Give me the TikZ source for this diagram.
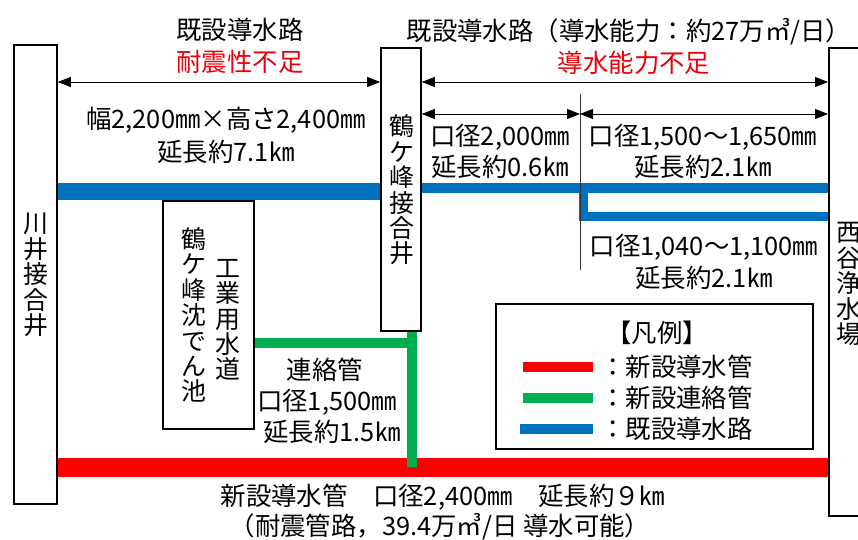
\documentclass[tikz,border=0pt]{standalone}
\usepackage{fontspec}
\setmainfont{Noto Sans CJK JP}
\usetikzlibrary{arrows.meta}
\definecolor{pipeblue}{RGB}{0,112,192}
\definecolor{pipegreen}{RGB}{0,176,80}
\definecolor{pipered}{RGB}{255,0,0}
\definecolor{txtred}{RGB}{235,0,10}
\begin{document}
\begin{tikzpicture}[x=1bp,y=-1bp,
  lbl/.style={font=\fontsize{25.5}{25.5}\selectfont, inner sep=0pt},
  vtext/.style={font=\fontsize{25}{25.5}\selectfont, inner sep=0pt, align=center},
  boxnode/.style={draw, line width=1.6bp, inner sep=0pt, fill=white},
  dimline/.style={line width=0.9bp, {Triangle[length=13bp,width=10bp]}-{Triangle[length=13bp,width=10bp]}},
  pipe/.style={line width=#1, line cap=butt},
]
\useasboundingbox (0,0) rectangle (858,540);
\fill[white] (0,0) rectangle (858,540);

% boxes
\node[boxnode, minimum width=43bp, minimum height=459bp] (kawai) at (35.5,274.5) {};
\node[boxnode, minimum width=40bp, minimum height=283bp] (tsuru) at (401,189.5) {};
\node[boxnode, minimum width=46bp, minimum height=468bp, anchor=north west] (nishi) at (828,47) {};
\node[boxnode, minimum width=91bp, minimum height=228bp] (pond) at (208.5,315) {};

% vertical labels
\node[vtext] (kawaiT) at (36,275) {川\\井\\接\\合\\井};
\node[vtext] (tsuruT) at (402,190) {鶴\\ケ\\峰\\接\\合\\井};
\node[vtext] (nishiT) at (849,284) {西\\谷\\浄\\水\\場};
\node[vtext] (pondT) at (194,315) {鶴\\ケ\\峰\\沈\\で\\ん\\池};
\node[vtext] (indT) at (228,320) {工\\業\\用\\水\\道};

% pipes: blue existing
\coordinate (b1) at (kawai.east |- 0,191.5);
\coordinate (b2) at (tsuru.west |- 0,191.5);
\draw[pipeblue, pipe=17bp] (b1) -- (b2);
\coordinate (b3) at (tsuru.east |- 0,188);
\coordinate (b4) at (nishi.west |- 0,188);
\draw[pipeblue, pipe=10bp] (b3) -- (b4);
\coordinate (b5) at (583.5,183);
\coordinate (b6) at (583.5,216.5);
\coordinate (b7) at (nishi.west |- 0,216.5);
\draw[pipeblue, pipe=9bp, line join=miter] (b5) -- (b6) -- (b7);
\draw[pipeblue, pipe=7bp] (583.5,183) -- (583.5,221);

% divider
\coordinate (d1) at (580,94);
\coordinate (d2) at (580,270);
\draw[line width=0.9bp, black!80] (d1) -- (d2);

% red new pipe
\coordinate (r1) at (kawai.east |- 0,467.5);
\coordinate (r2) at (nishi.west |- 0,467.5);
\draw[pipered, pipe=19bp] (r1) -- (r2);

% green connection
\coordinate (g1) at (pond.east |- 0,343);
\coordinate (g2) at (417,343);
\coordinate (g3) at (412,331);
\coordinate (g4) at (412,467);
\draw[pipegreen, pipe=10bp] (g1) -- (g2);
\draw[pipegreen, pipe=10bp] (tsuru.south -| g3) -- (g4);

% dimension arrows
\coordinate (a1) at (kawai.east |- 0,82);
\coordinate (a2) at (tsuru.west |- 0,82);
\draw[dimline] (a1) -- (a2);
\coordinate (a3) at (tsuru.east |- 0,82);
\coordinate (a4) at (nishi.west |- 0,82);
\draw[dimline] (a3) -- (a4);
\coordinate (a5) at (tsuru.east |- 0,114);
\coordinate (a6) at (580,114);
\coordinate (a7) at (nishi.west |- 0,114);
\draw[dimline] (a5) -- (a6);
\draw[dimline] (a6) -- (a7);

% top labels
\node[lbl] (t1) at (240,30) {既設導水路};
\node[lbl, text=txtred] (t2) at (240,62) {耐震性不足};
\node[lbl] (t3) at (226,120) {幅2,200㎜×高さ2,400㎜};
\node[lbl] (t4) at (226,152) {延長約7.1㎞};
\node[lbl] (t5) at (629,32) {既設導水路（導水能力：約27万㎥/日）};
\node[lbl, text=txtred] (t6) at (634,63) {導水能力不足};
\node[lbl] (t7) at (500,137) {口径2,000㎜};
\node[lbl] (t8) at (500,167) {延長約0.6㎞};
\node[lbl] (t9) at (703,137) {口径1,500～1,650㎜};
\node[lbl] (t10) at (703,167) {延長約2.1㎞};
\node[lbl] (t11) at (704,247) {口径1,040～1,100㎜};
\node[lbl] (t12) at (704,278) {延長約2.1㎞};
\node[lbl] (t13) at (325,370) {連絡管};
\node[lbl] (t14) at (327,402) {口径1,500㎜};
\node[lbl] (t15) at (332,432) {延長約1.5㎞};
\node[lbl] (t16) at (443,497) {新設導水管　口径2,400㎜　延長約９㎞};
\node[lbl] (t17) at (440,527) {（耐震管路，39.4万㎥/日 導水可能）};

% legend
\node[draw, line width=1.6bp, minimum width=317bp, minimum height=145bp, inner sep=0pt] (legend) at (654.5,376.5) {};
\node[lbl] (lgT) at (657,333) {【凡例】};
\coordinate (lr1) at (523,367); \coordinate (lr2) at (593,367);
\coordinate (lg1) at (523,398); \coordinate (lg2) at (593,398);
\coordinate (lb1) at (520,429); \coordinate (lb2) at (593,429);
\draw[pipered, pipe=10bp] (lr1) -- (lr2);
\draw[pipegreen, pipe=10bp] (lg1) -- (lg2);
\draw[pipeblue, pipe=10bp] (lb1) -- (lb2);
\node[lbl, anchor=west] (lrT) at (600,367) {：新設導水管};
\node[lbl, anchor=west] (lgT2) at (600,398) {：新設連絡管};
\node[lbl, anchor=west] (lbT) at (600,429) {：既設導水路};
\end{tikzpicture}
\end{document}
